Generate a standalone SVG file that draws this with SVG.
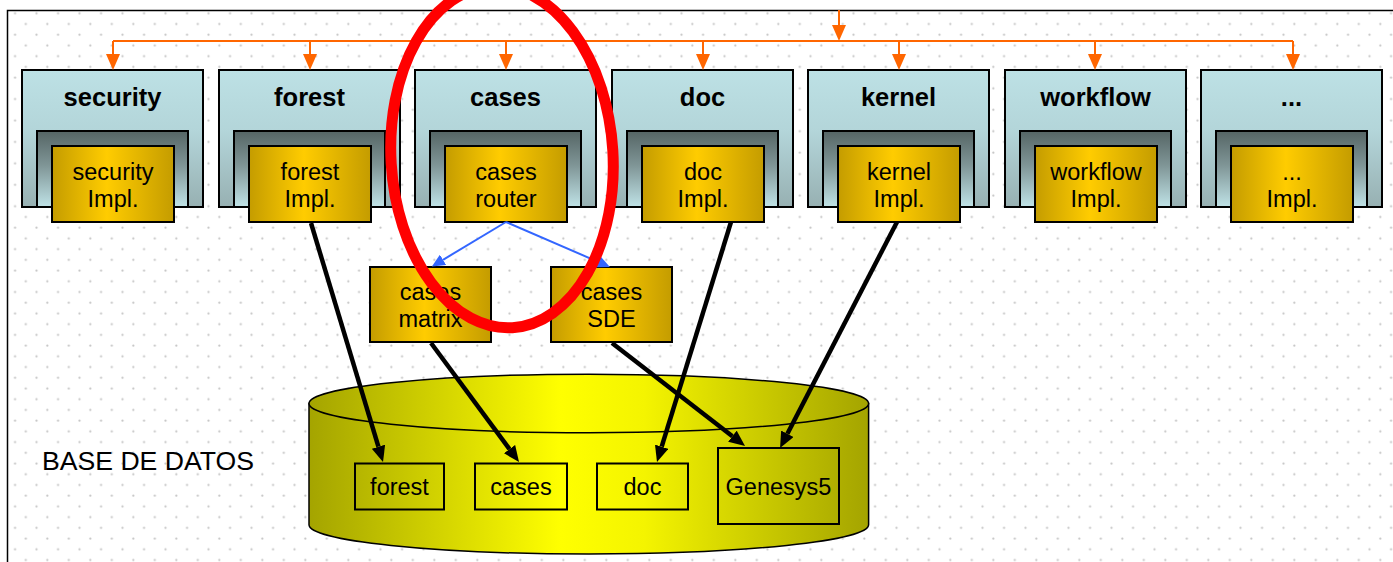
<svg xmlns="http://www.w3.org/2000/svg" width="1393" height="562" viewBox="0 0 1393 562">
<style>
text{font-family:"Liberation Sans",Arial,sans-serif;fill:#000}
.title{font-size:25.5px;font-weight:bold;text-anchor:middle}
.lbl{font-size:23.5px;text-anchor:middle}
.outer{fill:url(#gOuter);stroke:#000;stroke-width:2}
.inner{fill:url(#gInner);stroke:#000;stroke-width:2}
.impl{fill:url(#gGold);stroke:#000;stroke-width:2}
.orange{stroke:#ff6600;stroke-width:2;fill:none}
.blue{stroke:#3366ff;stroke-width:2;fill:none}
.black{stroke:#000;stroke-width:4.5;fill:none}
.dbbox{fill:none;stroke:#000;stroke-width:2}
</style>
<defs>
<pattern id="dots" patternUnits="userSpaceOnUse" width="21.5" height="21.44">
<circle cx="4.3" cy="2.64" r="1.1" fill="#c4c4c4"/>
<circle cx="15.05" cy="13.36" r="1.1" fill="#c4c4c4"/>
</pattern>
<linearGradient id="gOuter" x1="0" y1="0" x2="0" y2="1">
<stop offset="0" stop-color="#bde1e5"/>
<stop offset="0.45" stop-color="#b3d5d9"/>
<stop offset="1" stop-color="#97b0b2"/>
</linearGradient>
<linearGradient id="gInner" x1="0" y1="0" x2="0" y2="1">
<stop offset="0" stop-color="#556565"/>
<stop offset="0.45" stop-color="#7f9596"/>
<stop offset="1" stop-color="#c0e3e7"/>
</linearGradient>
<linearGradient id="gGold" x1="0" y1="0" x2="1" y2="0">
<stop offset="0" stop-color="#c49c00"/>
<stop offset="0.45" stop-color="#ffcc00"/>
<stop offset="1" stop-color="#c49c00"/>
</linearGradient>
<linearGradient id="gCyl" x1="0" y1="0" x2="1" y2="0">
<stop offset="0" stop-color="#a4a400"/>
<stop offset="0.45" stop-color="#ffff00"/>
<stop offset="0.6" stop-color="#f4f400"/>
<stop offset="1" stop-color="#a4a400"/>
</linearGradient>
<marker id="mOrange" markerUnits="userSpaceOnUse" viewBox="0 0 16 14" markerWidth="16" markerHeight="14" refX="0" refY="7" orient="auto">
<path d="M0,0 L16,7 L0,14 Z" fill="#ff6600"/>
</marker>
<marker id="mBlue" markerUnits="userSpaceOnUse" viewBox="0 0 13 12" markerWidth="13" markerHeight="12" refX="0" refY="6" orient="auto">
<path d="M0,0 L13,6 L0,12 Z" fill="#3366ff"/>
</marker>
<marker id="mBlack" markerUnits="userSpaceOnUse" viewBox="0 0 16 14" markerWidth="16" markerHeight="14" refX="0" refY="7" orient="auto">
<path d="M0,0 L16,7 L0,14 Z" fill="#000"/>
</marker>
</defs>

<rect x="0" y="0" width="1393" height="562" fill="#fff"/>
<rect x="8" y="11" width="1390" height="560" fill="url(#dots)"/>
<path d="M7.5,570 V10.5 H1400" fill="none" stroke="#000" stroke-width="1.5"/>

<g id="database">
<path d="M309,403.5 V524.7 A279.8,29.3 0 0 0 868.6,524.7 V403.5 Z" fill="url(#gCyl)" stroke="#000" stroke-width="1.5"/>
<ellipse cx="588.8" cy="403.5" rx="279.8" ry="29.3" fill="url(#gCyl)" stroke="#000" stroke-width="1.5"/>
<text x="42" y="470" style="font-size:25px" textLength="212" lengthAdjust="spacingAndGlyphs">BASE DE DATOS</text>
</g>
<g id="db-forest"><rect class="dbbox" x="355" y="463.5" width="89" height="46"/><text class="lbl" x="399.5" y="495">forest</text></g>
<g id="db-cases"><rect class="dbbox" x="475" y="463.5" width="92" height="46"/><text class="lbl" x="521" y="495">cases</text></g>
<g id="db-doc"><rect class="dbbox" x="597" y="463.5" width="91" height="46"/><text class="lbl" x="642.5" y="495">doc</text></g>
<g id="db-genesys5"><rect class="dbbox" x="718" y="448" width="121" height="76"/><text class="lbl" x="778.5" y="495">Genesys5</text></g>

<g id="mod-security">
<rect class="outer" x="22" y="70" width="181" height="137"/>
<rect class="inner" x="37" y="131" width="151" height="76"/>
<rect class="impl" x="52" y="146" width="122" height="76"/>
<text class="title" x="112.5" y="106">security</text>
<text class="lbl" x="113" y="180">security</text><text class="lbl" x="113" y="207">Impl.</text>
</g>
<g id="mod-forest">
<rect class="outer" x="219" y="70" width="181" height="137"/>
<rect class="inner" x="234" y="131" width="151" height="76"/>
<rect class="impl" x="249" y="146" width="122" height="76"/>
<text class="title" x="309.5" y="106">forest</text>
<text class="lbl" x="310" y="180">forest</text><text class="lbl" x="310" y="207">Impl.</text>
</g>
<g id="mod-cases">
<rect class="outer" x="415" y="70" width="181" height="137"/>
<rect class="inner" x="430" y="131" width="151" height="76"/>
<rect class="impl" x="445" y="146" width="122" height="76"/>
<text class="title" x="505.5" y="106">cases</text>
<text class="lbl" x="506" y="180">cases</text><text class="lbl" x="506" y="207">router</text>
</g>
<g id="mod-doc">
<rect class="outer" x="612" y="70" width="181" height="137"/>
<rect class="inner" x="627" y="131" width="151" height="76"/>
<rect class="impl" x="642" y="146" width="122" height="76"/>
<text class="title" x="702.5" y="106">doc</text>
<text class="lbl" x="703" y="180">doc</text><text class="lbl" x="703" y="207">Impl.</text>
</g>
<g id="mod-kernel">
<rect class="outer" x="808" y="70" width="181" height="137"/>
<rect class="inner" x="823" y="131" width="151" height="76"/>
<rect class="impl" x="838" y="146" width="122" height="76"/>
<text class="title" x="898.5" y="106">kernel</text>
<text class="lbl" x="899" y="180">kernel</text><text class="lbl" x="899" y="207">Impl.</text>
</g>
<g id="mod-workflow">
<rect class="outer" x="1005" y="70" width="181" height="137"/>
<rect class="inner" x="1020" y="131" width="151" height="76"/>
<rect class="impl" x="1035" y="146" width="122" height="76"/>
<text class="title" x="1095.5" y="106">workflow</text>
<text class="lbl" x="1096" y="180">workflow</text><text class="lbl" x="1096" y="207">Impl.</text>
</g>
<g id="mod-more">
<rect class="outer" x="1201" y="70" width="181" height="137"/>
<rect class="inner" x="1216" y="131" width="151" height="76"/>
<rect class="impl" x="1231" y="146" width="122" height="76"/>
<text class="title" x="1291.5" y="106">...</text>
<text class="lbl" x="1292" y="180">...</text><text class="lbl" x="1292" y="207">Impl.</text>
</g>
<g id="cases-matrix">
<rect class="impl" x="370" y="267" width="121" height="75"/>
<text class="lbl" x="430.5" y="300">cases</text><text class="lbl" x="430.5" y="327">matrix</text>
</g>
<g id="cases-sde">
<rect class="impl" x="551" y="267" width="121" height="75"/>
<text class="lbl" x="611.5" y="300">cases</text><text class="lbl" x="611.5" y="327">SDE</text>
</g>

<g id="connectors">
<path class="orange" d="M113,41 H1293"/>
<line class="orange" x1="839" y1="10" x2="839" y2="25" marker-end="url(#mOrange)"/>
<line class="orange" x1="113" y1="41" x2="113" y2="54" marker-end="url(#mOrange)"/>
<line class="orange" x1="310" y1="41" x2="310" y2="54" marker-end="url(#mOrange)"/>
<line class="orange" x1="506" y1="41" x2="506" y2="54" marker-end="url(#mOrange)"/>
<line class="orange" x1="703" y1="41" x2="703" y2="54" marker-end="url(#mOrange)"/>
<line class="orange" x1="899" y1="41" x2="899" y2="54" marker-end="url(#mOrange)"/>
<line class="orange" x1="1095" y1="41" x2="1095" y2="54" marker-end="url(#mOrange)"/>
<line class="orange" x1="1293" y1="41" x2="1293" y2="54" marker-end="url(#mOrange)"/>
<line class="blue" x1="506" y1="222" x2="443" y2="259.8" marker-end="url(#mBlue)"/>
<line class="blue" x1="506" y1="222" x2="598" y2="261.8" marker-end="url(#mBlue)"/>
<line class="black" x1="311" y1="223" x2="378.4" y2="446.7" marker-end="url(#mBlack)"/>
<line class="black" x1="431" y1="343" x2="509.5" y2="449.1" marker-end="url(#mBlack)"/>
<line class="black" x1="612" y1="343" x2="732.4" y2="436.2" marker-end="url(#mBlack)"/>
<line class="black" x1="731" y1="222" x2="661.7" y2="446.7" marker-end="url(#mBlack)"/>
<line class="black" x1="897" y1="222" x2="787.4" y2="433.8" marker-end="url(#mBlack)"/>
</g>

<ellipse id="highlight" cx="502" cy="157" rx="111" ry="171" fill="none" stroke="#ff0000" stroke-width="11" transform="rotate(-3.5 502 157)"/>
</svg>
